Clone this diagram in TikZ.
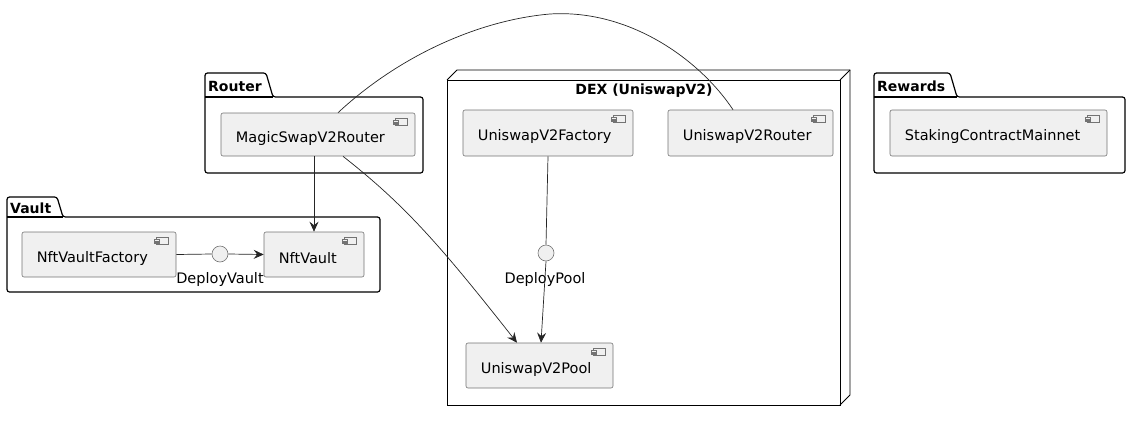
\documentclass[tikz,border=0pt]{standalone}
\usepackage{fontspec}
\setmainfont{DejaVu Sans}
\usetikzlibrary{arrows.meta,calc}
\newcommand\comp[6]{%
  \node[comp, minimum width=#4pt, minimum height=#5pt] (#1) at (#2,#3) {};
  \node[lbl, anchor=west] (#1-t) at ($(#1.west)+(15,3.5)$) {#6};
  \draw[icon] ($(#1.north east)+(-20,6)$) rectangle ($(#1.north east)+(-8,13)$);
  \draw[icon] ($(#1.north east)+(-22.5,7.5)$) rectangle ($(#1.north east)+(-17.5,9.3)$);
  \draw[icon] ($(#1.north east)+(-22.5,10.2)$) rectangle ($(#1.north east)+(-17.5,12)$);
}
\begin{document}
\begin{tikzpicture}[x=1pt,y=-1pt,
  comp/.style={draw=black!55, fill=black!6, rounded corners=2pt, line width=0.6pt, inner sep=0pt},
  icon/.style={draw=black!55, fill=black!6, line width=0.5pt},
  lbl/.style={font=\fontsize{14.5}{17}\selectfont, inner sep=0pt},
  pkg/.style={draw=black, line width=1.2pt, rounded corners=2.5pt},
  pkgtitle/.style={font=\bfseries\fontsize{14}{16}\selectfont, inner sep=0pt, anchor=base west},
  iface/.style={circle, draw=black!55, fill=black!6, minimum size=16pt, inner sep=0pt, line width=0.6pt},
  edge/.style={draw=black!85, line width=0.7pt},
  arr/.style={edge, -{Stealth[length=10pt,width=9pt,inset=3.5pt]}},
  node3d/.style={draw=black, line width=0.9pt}]
\useasboundingbox (0,0) rectangle (1130,421);

% Router package
\draw[pkg] (205,173) -- (205,73) -- (266,73) -- (273,97) -- (423,97) -- (423,173) -- cycle;
\draw[draw=black, line width=1.2pt] (205,97) -- (273,97);
\node[pkgtitle] (routerT) at (208,91) {Router};

% Vault package
\draw[pkg] (7,292) -- (7,197) -- (57,197) -- (63,217) -- (380,217) -- (380,292) -- cycle;
\draw[draw=black, line width=1.2pt] (7,217) -- (63,217);
\node[pkgtitle] (vaultT) at (10,213) {Vault};

% Rewards package
\draw[pkg] (874,173) -- (874,73) -- (950,73) -- (957,97) -- (1125,97) -- (1125,173) -- cycle;
\draw[draw=black, line width=1.2pt] (874,97) -- (957,97);
\node[pkgtitle] (rewT) at (877,91) {Rewards};

% DEX node (3D box)
\draw[node3d] (447,80) -- (457,70) -- (850,70) -- (850,395) -- (840,405);
\draw[node3d] (840,80) -- (850,70);
\draw[node3d] (447,80) rectangle (840,405);
\node[font=\bfseries\fontsize{14}{16}\selectfont, inner sep=0pt] (dexT) at (644,91) {DEX (UniswapV2)};

% Components
\comp{magic}{318}{134.5}{194}{43}{MagicSwapV2Router}
\comp{nvf}{99}{254.5}{154}{45}{NftVaultFactory}
\comp{nv}{314}{254.5}{100}{45}{NftVault}
\comp{uvf}{548}{133}{170}{46}{UniswapV2Factory}
\comp{uvr}{750.5}{133}{165}{46}{UniswapV2Router}
\comp{pool}{539.5}{365.5}{147}{45}{UniswapV2Pool}
\comp{stk}{998.5}{133}{217}{46}{StakingContractMainnet}

% Interfaces
\node[iface] (dv) at (220,254) {};
\node[lbl] (dvL) at (220,279) {DeployVault};
\node[iface] (dp) at (546,253) {};
\node[lbl] (dpL) at (545,279) {DeployPool};

% Connectors
\draw[arr] (nv.north |- magic.south) -- (nv.north);
\draw[edge] (nvf.east) -- (dv.west);
\draw[arr] (dv.east) -- (nv.west);
\draw[edge] (uvf.south) -- (dp.north);
\draw[arr] (dp.south) -- ($(pool.north)+(1.5,0)$);
\draw[arr] ($(magic.south)+(25,0)$) .. controls (405,205) and (440,245) .. ($(pool.north)+(-22.5,0)$);
\draw[edge] ($(magic.north)+(20,0)$) .. controls (400,55) and (480,20) .. (550,14)
  .. controls (630,9) and (700,60) .. ($(uvr.north)+(-17.5,0)$);
\end{tikzpicture}
\end{document}
